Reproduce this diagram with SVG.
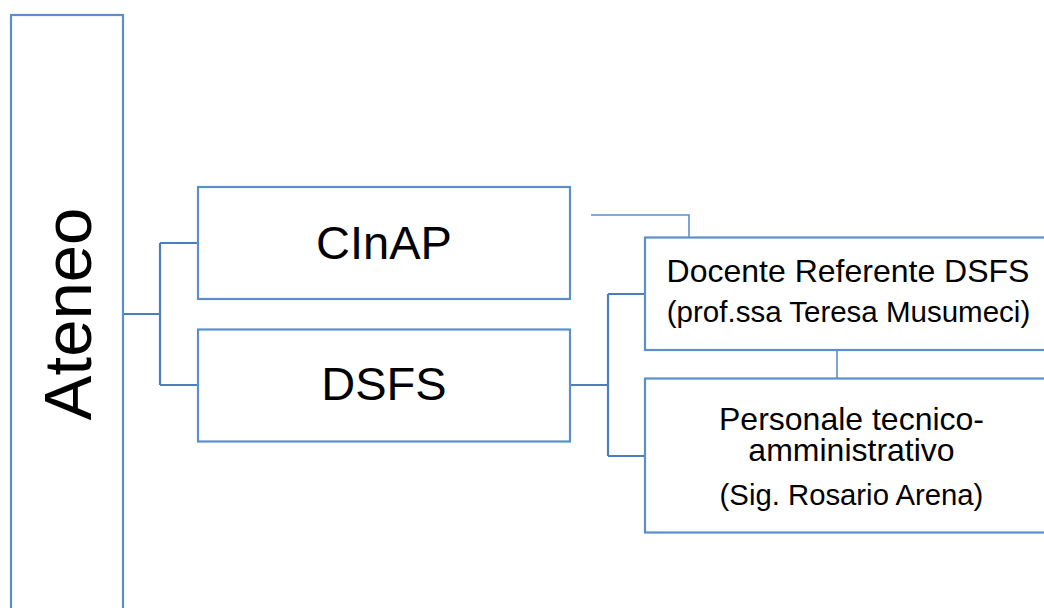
<svg xmlns="http://www.w3.org/2000/svg" width="1044" height="608" viewBox="0 0 1044 608">
<style>
.box{fill:#ffffff;stroke:#5a8fca;stroke-width:2.2}
.con{fill:none;stroke:#4a7fbb;stroke-width:2.2}
.thin{fill:none;stroke:#5a8fca;stroke-width:1.6}
text{font-family:"Liberation Sans",Arial,sans-serif;fill:#000000;text-anchor:middle}
</style>
<rect x="0" y="0" width="1044" height="608" fill="#ffffff"/>
<g id="connectors">
<path class="con" d="M123 314 H160 M160 243 V385 M160 243 H198 M160 385 H198"/>
<path class="con" d="M570 385 H608 M608 294 V456 M608 294 H645 M608 456 H645"/>
<path class="thin" d="M591 215 H689 V237"/>
<path class="thin" d="M837 350 V378"/>
</g>
<g id="ateneo">
<rect class="box" x="11" y="15" width="112" height="620"/>
<text x="0" y="0" font-size="67" transform="translate(90.5 314) rotate(-90)">Ateneo</text>
</g>
<g id="cinap">
<rect class="box" x="198" y="187" width="372" height="112"/>
<text x="384" y="259" font-size="47">CInAP</text>
</g>
<g id="dsfs">
<rect class="box" x="198" y="329.5" width="372" height="112"/>
<text x="384" y="400" font-size="47">DSFS</text>
</g>
<g id="docente">
<rect class="box" x="645" y="237.5" width="420" height="112.5"/>
<text x="848" y="282" font-size="32">Docente Referente DSFS</text>
<text x="848.5" y="322" font-size="29.5">(prof.ssa Teresa Musumeci)</text>
</g>
<g id="personale">
<rect class="box" x="645" y="378.5" width="420" height="154"/>
<text x="851.5" y="430" font-size="32">Personale tecnico-</text>
<text x="851.5" y="461" font-size="32">amministrativo</text>
<text x="851.5" y="505" font-size="29.3">(Sig. Rosario Arena)</text>
</g>
</svg>
